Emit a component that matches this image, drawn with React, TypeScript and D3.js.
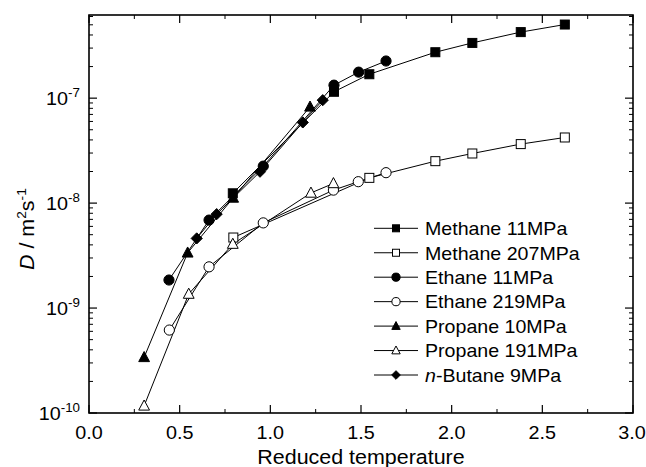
import React from "react";
import * as d3 from "d3";

const W = 646;
const H = 467;

const methane11X = [0.793, 1.351, 1.546, 1.91, 2.114, 2.381, 2.624];
const methane11Y = [1.24e-8, 1.15e-7, 1.69e-7, 2.74e-7, 3.36e-7, 4.26e-7, 5.03e-7];
const methane207X = [0.796, 1.546, 1.91, 2.114, 2.381, 2.624];
const methane207Y = [4.7e-9, 1.74e-8, 2.51e-8, 2.97e-8, 3.65e-8, 4.22e-8];
const ethane11X = [0.441, 0.662, 0.961, 1.351, 1.487, 1.638];
const ethane11Y = [1.85e-9, 6.89e-9, 2.25e-8, 1.33e-7, 1.77e-7, 2.26e-7];
const ethane219X = [0.443, 0.662, 0.961, 1.348, 1.485, 1.638];
const ethane219Y = [6.17e-10, 2.47e-9, 6.48e-9, 1.33e-8, 1.6e-8, 1.95e-8];
const propane10X = [0.304, 0.544, 0.795, 1.219];
const propane10Y = [3.39e-10, 3.36e-9, 1.12e-8, 8.26e-8];
const propane191X = [0.304, 0.55, 0.793, 1.224, 1.348];
const propane191Y = [1.17e-10, 1.36e-9, 4.07e-9, 1.25e-8, 1.54e-8];
const butane9X = [0.594, 0.704, 0.943, 1.179, 1.289];
const butane9Y = [4.61e-9, 7.85e-9, 1.99e-8, 5.87e-8, 9.57e-8];

const xTicks = [0, 0.5, 1.0, 1.5, 2.0, 2.5, 3.0];
const xMinorTicks = [0.25, 0.75, 1.25, 1.75, 2.25, 2.75];
const yTickExps = [-10, -9, -8, -7];

type Shape = "square" | "circle" | "triangle" | "diamond";
const seriesNames = [
  "Methane 11MPa",
  "Methane 207MPa",
  "Ethane 11MPa",
  "Ethane 219MPa",
  "Propane 10MPa",
  "Propane 191MPa",
  "n-Butane 9MPa",
];
const seriesX = [methane11X, methane207X, ethane11X, ethane219X, propane10X, propane191X, butane9X];
const seriesY = [methane11Y, methane207Y, ethane11Y, ethane219Y, propane10Y, propane191Y, butane9Y];
const seriesShape: Shape[] = ["square", "square", "circle", "circle", "triangle", "triangle", "diamond"];
const seriesFilled = [true, false, true, false, true, false, true];

const FONT = "'Liberation Sans', Arial, Helvetica, sans-serif";

function T({
  x,
  y,
  anchor = "start",
  rotate = 0,
  fs = 19.5,
  sx = 1.1,
  children,
}: {
  x: number;
  y: number;
  anchor?: "start" | "middle" | "end";
  rotate?: number;
  fs?: number;
  sx?: number;
  children: React.ReactNode;
}) {
  return (
    <text
      transform={`translate(${x},${y}) rotate(${rotate}) scale(${sx},1)`}
      textAnchor={anchor}
      fontFamily={FONT}
      fontSize={fs}
      fill="#000"
    >
      {children}
    </text>
  );
}

function Marker({ shape, filled, x, y, s }: { shape: Shape; filled: boolean; x: number; y: number; s: number }) {
  const fill = filled ? "#000" : "#fff";
  const common = { fill, stroke: "#000", strokeWidth: 1 };
  if (shape === "square") {
    return <rect x={x - s / 2} y={y - s / 2} width={s} height={s} {...common} />;
  }
  if (shape === "circle") {
    return <circle cx={x} cy={y} r={s / 2 + 0.6} {...common} />;
  }
  if (shape === "triangle") {
    const h = s * 1.05;
    const w = s * 1.2;
    return (
      <path
        d={`M${x},${y - h * 0.62}L${x + w / 2},${y + h * 0.45}L${x - w / 2},${y + h * 0.45}Z`}
        {...common}
      />
    );
  }
  const r = s * 0.62;
  return <path d={`M${x},${y - r}L${x + r},${y}L${x},${y + r}L${x - r},${y}Z`} {...common} />;
}

export default function App() {
  const left = 89;
  const right = 633;
  const top = 15;
  const bottom = 413;
  const x = d3.scaleLinear().domain([0, 3]).range([left, right]);
  const y = d3.scaleLog().domain([1e-10, 6.2e-7]).range([bottom, top]);

  const yMinor: number[] = [];
  for (let e = -10; e <= -7; e++) {
    for (let m = 2; m <= 9; m++) {
      const v = m * Math.pow(10, e);
      if (v <= 6.2e-7) yMinor.push(v);
    }
  }

  const line = d3
    .line<[number, number]>()
    .x((d) => x(d[0]))
    .y((d) => y(d[1]));

  return (
    <svg width={W} height={H} style={{ position: "absolute", left: 0, top: 0, background: "#fff" }}>
      <rect x={0} y={0} width={W} height={H} fill="#fff" />
      {seriesX.map((xs, i) => (
        <path
          key={"l" + i}
          d={line(xs.map((v, j) => [v, seriesY[i][j]] as [number, number])) || ""}
          fill="none"
          stroke="#000"
          strokeWidth={1}
        />
      ))}
      {seriesX.map((xs, i) =>
        xs.map((v, j) => (
          <Marker
            key={"m" + i + "-" + j}
            shape={seriesShape[i]}
            filled={seriesFilled[i]}
            x={x(v)}
            y={y(seriesY[i][j])}
            s={9}
          />
        ))
      )}
      <rect x={left} y={top} width={right - left} height={bottom - top} fill="none" stroke="#000" strokeWidth={1.6} />
      {xTicks.map((t) => (
        <g key={"xt" + t}>
          <line x1={x(t)} x2={x(t)} y1={bottom} y2={bottom - 8} stroke="#000" strokeWidth={1.2} />
          <line x1={x(t)} x2={x(t)} y1={top} y2={top + 8} stroke="#000" strokeWidth={1.2} />
          <T x={t === 3 ? x(t) - 1 : x(t)} y={439} anchor="middle" fs={18.5} sx={1.07}>
            {t.toFixed(1)}
          </T>
        </g>
      ))}
      {xMinorTicks.map((t) => (
        <g key={"xm" + t}>
          <line x1={x(t)} x2={x(t)} y1={bottom} y2={bottom - 4} stroke="#000" strokeWidth={1} />
          <line x1={x(t)} x2={x(t)} y1={top} y2={top + 4} stroke="#000" strokeWidth={1} />
        </g>
      ))}
      {yTickExps.map((e) => {
        const yy = y(Math.pow(10, e));
        return (
          <g key={"yt" + e}>
            <line x1={left} x2={left + 8} y1={yy} y2={yy} stroke="#000" strokeWidth={1.2} />
            <line x1={right} x2={right - 8} y1={yy} y2={yy} stroke="#000" strokeWidth={1.2} />
            <T x={80} y={yy + 7} anchor="end" fs={18.5} sx={1.07}>
              10
              <tspan fontSize={12.5} dy={-8}>
                {String(e)}
              </tspan>
            </T>
          </g>
        );
      })}
      {yMinor.map((v) => (
        <g key={"ym" + v}>
          <line x1={left} x2={left + 4} y1={y(v)} y2={y(v)} stroke="#000" strokeWidth={1} />
          <line x1={right} x2={right - 4} y1={y(v)} y2={y(v)} stroke="#000" strokeWidth={1} />
        </g>
      ))}
      <T x={361} y={464} anchor="middle">
        Reduced temperature
      </T>
      <T x={34} y={270} rotate={-90}>
        <tspan fontStyle="italic">D</tspan>
        <tspan> / m</tspan>
        <tspan fontSize={12.5} dy={-8}>2</tspan>
        <tspan dy={8}>s</tspan>
        <tspan fontSize={12.5} dy={-8}>-1</tspan>
      </T>
      {seriesNames.map((name, i) => {
        const cy = 228.3 + i * 24.45;
        return (
          <g key={"lg" + i}>
            <line x1={374} x2={418} y1={cy} y2={cy} stroke="#000" strokeWidth={1} />
            <Marker shape={seriesShape[i]} filled={seriesFilled[i]} x={396} y={cy} s={7} />
            <T x={425} y={cy + 6.8} fs={18.5} sx={1.06}>
              {name.startsWith("n-") ? (
                <>
                  <tspan fontStyle="italic">n</tspan>
                  <tspan>{name.slice(1)}</tspan>
                </>
              ) : (
                name
              )}
            </T>
          </g>
        );
      })}
    </svg>
  );
}
